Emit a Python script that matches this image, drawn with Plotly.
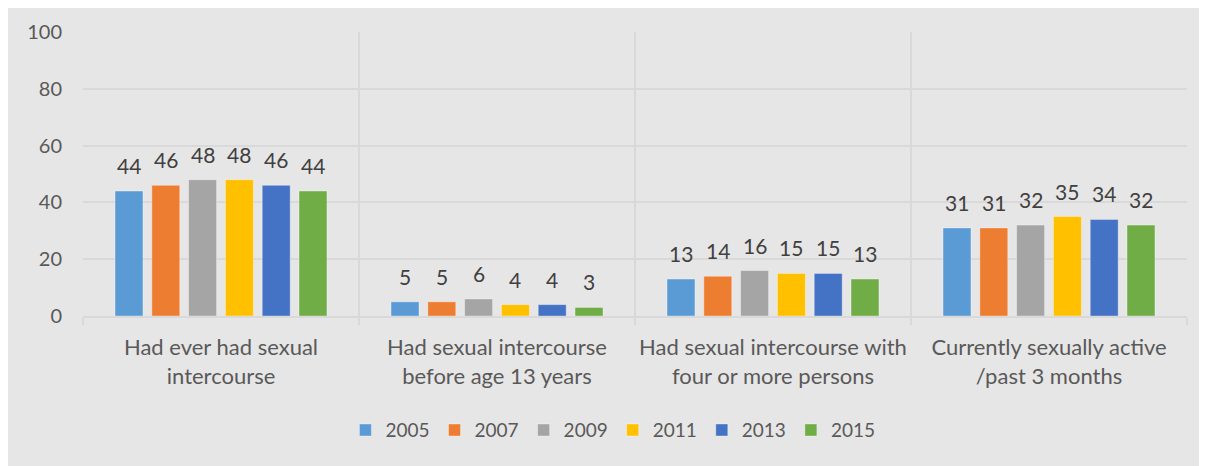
import plotly.graph_objects as go

categories = ["Had ever had sexual<br>intercourse",
              "Had sexual intercourse<br>before age 13 years",
              "Had sexual intercourse with<br>four or more persons",
              "Currently sexually active<br>/past 3 months"]
years = ["2005", "2007", "2009", "2011", "2013", "2015"]
values = {
    "2005": [44, 5, 13, 31],
    "2007": [46, 5, 14, 31],
    "2009": [48, 6, 16, 32],
    "2011": [48, 4, 15, 35],
    "2013": [46, 4, 15, 34],
    "2015": [44, 3, 13, 32],
}
colors = ["#5B9BD5", "#ED7D31", "#A5A5A5", "#FFC000", "#4472C4", "#70AD47"]
y_ticks = [0, 20, 40, 60, 80, 100]

FONT = "Lato, 'Open Sans', sans-serif"
BARGAP, GROUPGAP = 0.2, 0.24
fig = go.Figure()
n = len(years)
slot = (1 - BARGAP) / n
for i, (yr, c) in enumerate(zip(years, colors)):
    fig.add_trace(go.Bar(
        name=yr, x=categories, y=values[yr], marker_color=c,
        marker_line=dict(color="rgba(255,255,255,0.35)", width=1),
    ))
    for ci, v in enumerate(values[yr]):
        fig.add_annotation(x=ci + (i - (n - 1) / 2) * slot, y=v, text=str(v),
                           xref="x", yref="y", showarrow=False,
                           yanchor="bottom", yshift=11,
                           font=dict(size=21, color="#404040", family=FONT))

# page body has an 8px margin; figure coordinates = page coordinates - 8
OFF = 8
W, H = 1207 - OFF, 466 - OFF
L, R, T, B = 83 - OFF, 20, 32 - OFF, 150

fig.update_layout(
    width=W, height=H,
    margin=dict(l=L, r=R, t=T, b=B),
    paper_bgcolor="#E7E6E6", plot_bgcolor="rgba(0,0,0,0)",
    barmode="group", bargap=BARGAP, bargroupgap=GROUPGAP,
    font=dict(family=FONT, color="#595959", size=18),
    showlegend=True,
    legend=dict(orientation="h", x=0.48, xanchor="center", y=-0.335, yanchor="top",
                font=dict(size=19, color="#595959"), itemwidth=30,
                bgcolor="rgba(0,0,0,0)"),
    xaxis=dict(tickson="boundaries", showgrid=True, gridcolor="#D9D9D9", gridwidth=1.5,
               ticks="outside", ticklen=7, tickcolor="#D9D9D9", tickwidth=1.5,
               showline=True, linecolor="#D9D9D9", linewidth=1.5,
               tickfont=dict(size=22, color="#595959"), range=[-0.5, 3.5],
               tickangle=0, automargin=False, ticklabelstandoff=11),
    yaxis=dict(range=[0, 100], tickvals=y_ticks, showgrid=True, gridcolor="#D9D9D9",
               gridwidth=1.5, zeroline=False, showline=False, automargin=False,
               tickfont=dict(size=20, color="#595959"), ticklabelstandoff=20),
)
fig.write_html("out.html")
